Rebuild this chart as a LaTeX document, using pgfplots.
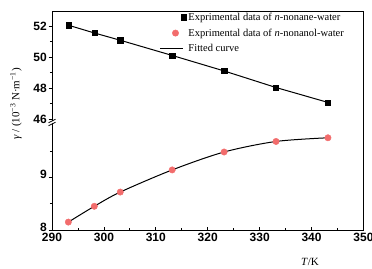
\documentclass[border=0pt]{standalone}
\usepackage{fontspec}
\setmainfont{Liberation Serif}
\setsansfont{Liberation Sans}
\usepackage{pgfplots}
\pgfplotsset{compat=1.18}
\definecolor{dotred}{RGB}{242,108,108}
\pgfplotstableread{
T gamma
293.15 52.05
298.15 51.55
303.15 51.08
313.15 50.10
323.15 49.10
333.15 48.03
343.15 47.07
}\nonane
\pgfplotstableread{
T gamma
293.15 8.15
298.15 8.45
303.15 8.72
313.15 9.14
323.15 9.48
333.15 9.68
343.15 9.75
}\nonanol
\pgfplotsset{common/.style={
  scale only axis, width=311.5pt,
  xmin=290, xmax=350,
  /pgf/number format/assume math mode=true,
  ticklabel style={font=\sffamily\bfseries\fontsize{12}{12}\selectfont},
  yticklabel style={inner sep=1.5pt},
  xticklabel style={inner sep=2.5pt},
  tick style={black, line width=0.8pt},
  axis line style={line width=0.9pt},
  ytick pos=left, xtick pos=bottom,
  ytick align=outside, xtick align=inside,
  major tick length=3.5pt, minor tick length=2.2pt,
}}
\begin{document}
\begin{tikzpicture}
\path[use as bounding box] (-52pt,-38pt) rectangle (320pt,230pt);
\begin{axis}[common, at={(0pt,0pt)}, anchor=south west,
  height=218.5pt, ymin=8, ymax=12.146,
  xtick={290,300,...,350}, minor xtick={295,305,...,345},
  ytick={8,9}, minor ytick={8.5,9.5},
  yticklabel style={yshift=2.5pt}]
\addplot[only marks, mark=*, mark size=3.2pt, color=dotred] table[x=T,y=gamma] {\nonanol};
\addplot[smooth, black, line width=1pt] table[x=T,y=gamma] {\nonanol};
\end{axis}
\begin{axis}[common, at={(0pt,111pt)}, anchor=south west,
  height=107.5pt, ymin=46, ymax=52.935,
  hide x axis, axis x line=none,
  ytick={46,48,50,52}, minor ytick={47,49,51},
  legend cell align=left,
  legend style={draw=none, fill=none, inner sep=0pt, outer sep=0pt,
    font=\fontsize{10.5}{12}\selectfont, row sep=3pt,
    at={(0.3467,1.007)}, anchor=north west}]
\addplot[only marks, mark=square*, mark size=2.6pt, black,
  legend image code/.code={\path[draw=none,fill=none] (0pt,-2pt) rectangle (26pt,2pt); \draw[mark=square*, mark size=2.6pt, black] plot coordinates {(23pt,0pt)};}] table[x=T,y=gamma] {\nonane};
\addlegendentry{Exprimental data of \textit{n}-nonane-water}
\addlegendimage{legend image code/.code={\path[draw=none,fill=none] (0pt,-2pt) rectangle (26pt,2pt); \draw[mark=*, mark size=3.2pt, color=dotred] plot coordinates {(15pt,0pt)};}}
\addlegendentry{Exprimental data of \textit{n}-nonanol-water}
\addplot[black, line width=1pt,
  legend image code/.code={\path[draw=none,fill=none] (0pt,-2pt) rectangle (26pt,2pt); \draw[black, line width=1pt] (0pt,0pt) -- (23pt,0pt);}] table[x=T,y=gamma] {\nonane};
\addlegendentry{Fitted curve}
\end{axis}
\fill[white] (-3.5pt,104.8pt) -- (3.5pt,108.3pt) -- (3.5pt,110.3pt) -- (-3.5pt,106.8pt) -- cycle;
\draw[line width=0.8pt] (-3.5pt,104.3pt) -- (3.5pt,107.8pt);
\draw[line width=0.8pt] (-3.5pt,107.3pt) -- (3.5pt,110.8pt);
\node[rotate=90, font=\fontsize{11}{12}\selectfont] at (-36pt,126pt) {\textit{γ} / (10\textsuperscript{−3} N·m\textsuperscript{−1})};
\node[font=\fontsize{11}{12}\selectfont] at (258pt,-32pt) {\textit{T}/K};
\end{tikzpicture}
\end{document}
